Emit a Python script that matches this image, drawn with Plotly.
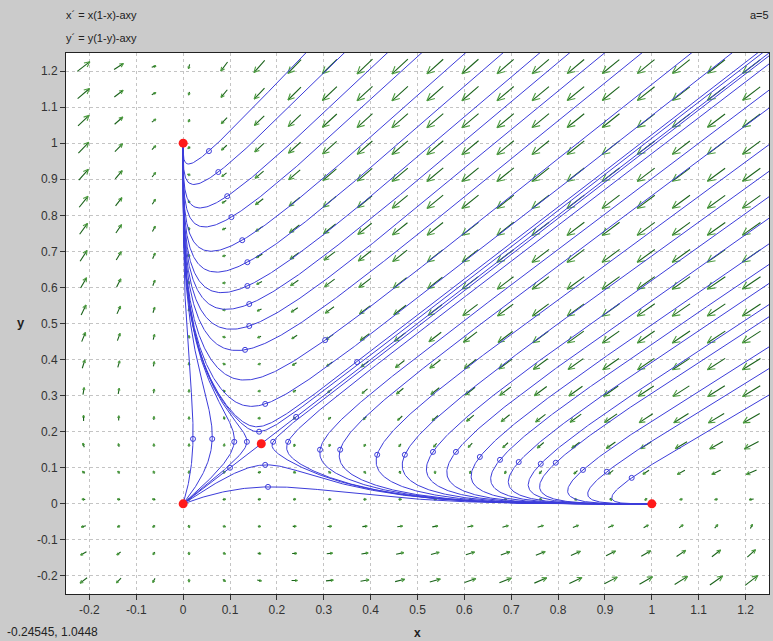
import numpy as np
import plotly.graph_objects as go

# ---- chart values ----
A_PARAM = 5.0
X_RANGE = [-0.25, 1.25]
Y_RANGE = [-0.25, 1.25]
TICK_VALS = [-0.2, -0.1, 0.0, 0.1, 0.2, 0.3, 0.4, 0.5, 0.6, 0.7, 0.8, 0.9, 1.0, 1.1, 1.2]
TICK_TEXT = ["-0.2", "-0.1", "0", "0.1", "0.2", "0.3", "0.4", "0.5", "0.6", "0.7",
             "0.8", "0.9", "1", "1.1", "1.2"]
FIELD_GRID = [-0.2125, -0.1375, -0.0625, 0.0125, 0.0875, 0.1625, 0.2375, 0.3125,
              0.3875, 0.4625, 0.5375, 0.6125, 0.6875, 0.7625, 0.8375, 0.9125,
              0.9875, 1.0625, 1.1375, 1.2125]

# initial points (small circles)
START_X = [0.055, 0.075, 0.094, 0.103, 0.126, 0.137, 0.137, 0.141, 0.141, 0.132,
           0.303, 0.371, 0.175, 0.162, 0.241,
           0.021, 0.062, 0.109, 0.136, 0.100, 0.175, 0.181,
           0.192, 0.224, 0.292, 0.335,
           0.414, 0.473, 0.533, 0.582, 0.633, 0.676, 0.716, 0.763, 0.795, 0.853,
           0.904, 0.957]
START_Y = [0.978, 0.920, 0.853, 0.795, 0.731, 0.670, 0.604, 0.554, 0.493, 0.427,
           0.454, 0.393, 0.277, 0.200, 0.241,
           0.180, 0.180, 0.172, 0.172, 0.100, 0.108, 0.047,
           0.172, 0.172, 0.150, 0.150,
           0.136, 0.136, 0.144, 0.144, 0.130, 0.122, 0.116, 0.111, 0.114, 0.094,
           0.089, 0.072]

FIXED_X = [0.0, 1.0, 0.0, 0.1667]
FIXED_Y = [0.0, 0.0, 1.0, 0.1667]

EQ_LINE1 = "x\u00b4 = x(1-x)-axy"
EQ_LINE2 = "y\u00b4 = y(1-y)-axy"
PARAM_TEXT = "a=5"
COORD_TEXT = "-0.24545, 1.0448"

# ---- layout geometry ----
W, H = 773, 641
ML, MR, MT, MB = 66, 4, 53, 47
PW, PH = W - ML - MR, H - MT - MB
PX = PW / (X_RANGE[1] - X_RANGE[0])
PY = PH / (Y_RANGE[1] - Y_RANGE[0])


def field(x, y):
    return x * (1 - x) - A_PARAM * x * y, y * (1 - y) - A_PARAM * x * y


def integrate(x0, y0, sign):
    xs, ys = [x0], [y0]
    x, y = x0, y0
    for _ in range(8000):
        vx, vy = field(x, y)
        sp = np.hypot(vx, vy)
        if sp < 1e-8:
            break
        h = sign * min(0.05, 0.003 / sp)
        k1 = field(x, y)
        k2 = field(x + h / 2 * k1[0], y + h / 2 * k1[1])
        k3 = field(x + h / 2 * k2[0], y + h / 2 * k2[1])
        k4 = field(x + h * k3[0], y + h * k3[1])
        x = x + h / 6 * (k1[0] + 2 * k2[0] + 2 * k3[0] + k4[0])
        y = y + h / 6 * (k1[1] + 2 * k2[1] + 2 * k3[1] + k4[1])
        xs.append(x)
        ys.append(y)
        if x < -0.3 or x > 1.35 or y < -0.3 or y > 1.35:
            break
        done = False
        for fx, fy in zip(FIXED_X, FIXED_Y):
            if np.hypot(x - fx, y - fy) < 1e-3:
                xs.append(fx)
                ys.append(fy)
                done = True
                break
        if done:
            break
    return xs, ys


traj_x, traj_y = [], []
for x0, y0 in zip(START_X, START_Y):
    bx, by = integrate(x0, y0, -1)
    fx, fy = integrate(x0, y0, 1)
    traj_x += bx[::-1] + fx[1:] + [None]
    traj_y += by[::-1] + fy[1:] + [None]

# direction field arrows (computed in screen pixels, converted back)
shaft_x, shaft_y, head_x, head_y = [], [], [], []
for gx in FIELD_GRID:
    for gy in FIELD_GRID:
        vx, vy = field(gx, gy)
        m = np.hypot(vx, vy)
        if m < 1e-9:
            continue
        sx, sy = vx * PX, vy * PY
        n = np.hypot(sx, sy)
        ux, uy = sx / n, sy / n
        L = 22.0 * np.tanh(m / 1.6)
        L = max(L, 3.0)
        tx, ty = -0.5 * L * ux, -0.5 * L * uy
        hx, hy = 0.5 * L * ux, 0.5 * L * uy
        shaft_x += [gx + tx / PX, gx + hx / PX, None]
        shaft_y += [gy + ty / PY, gy + hy / PY, None]
        hl = max(2.5, 0.38 * L)
        for ang in (0.45, -0.45):
            c, s = np.cos(ang), np.sin(ang)
            bx = -(ux * c - uy * s) * hl
            by = -(ux * s + uy * c) * hl
            head_x += [gx + (hx + bx) / PX, gx + hx / PX, None]
            head_y += [gy + (hy + by) / PY, gy + hy / PY, None]

fig = go.Figure()
fig.add_trace(go.Scatter(x=shaft_x, y=shaft_y, mode="lines",
                         line=dict(color="#1a621a", width=1.1), hoverinfo="skip"))
fig.add_trace(go.Scatter(x=head_x, y=head_y, mode="lines",
                         line=dict(color="#4e9e40", width=1.1), hoverinfo="skip"))
fig.add_trace(go.Scatter(x=traj_x, y=traj_y, mode="lines",
                         line=dict(color="#3c3cda", width=1), hoverinfo="skip"))
fig.add_trace(go.Scatter(x=START_X, y=START_Y, mode="markers",
                         marker=dict(symbol="circle-open", size=5,
                                     color="#3c3cda", line=dict(width=1))))
fig.add_trace(go.Scatter(x=FIXED_X, y=FIXED_Y, mode="markers",
                         marker=dict(symbol="circle", size=9, color="#ff1a1a"),
                         cliponaxis=False))

axis_common = dict(
    tickvals=TICK_VALS, ticktext=TICK_TEXT, ticks="outside", ticklen=5,
    tickcolor="#333333", showline=True, mirror=True, linecolor="#222222",
    linewidth=1, showgrid=True, gridcolor="#c4c4c4", griddash="dot",
    gridwidth=1, zeroline=False,
    tickfont=dict(family="Liberation Sans, Arial, sans-serif", size=12,
                  color="#333333"),
)
fig.update_xaxes(range=X_RANGE, **axis_common)
fig.update_yaxes(range=Y_RANGE, **axis_common)


def px2paper(px, py):
    return (px - ML) / PW, (H - MB - py) / PH


annos = []
for text, px, py, xa, bold, size in [
    (EQ_LINE1, 64, 15, "left", False, 11),
    (EQ_LINE2, 64, 38, "left", False, 11),
    (PARAM_TEXT, 771, 15, "right", False, 11),
    (COORD_TEXT, 5, 632, "left", False, 12),
    ("x", 417, 633, "center", True, 12),
    ("y", 21, 322, "center", True, 13),
]:
    xp, yp = px2paper(px, py)
    annos.append(dict(text=("<b>%s</b>" % text) if bold else text,
                      x=xp, y=yp, xref="paper", yref="paper",
                      xanchor=xa, yanchor="middle", showarrow=False,
                      font=dict(family="Liberation Sans, Arial, sans-serif",
                                size=size, color="#222222")))

fig.update_layout(
    width=W, height=H, showlegend=False,
    margin=dict(l=ML, r=MR, t=MT, b=MB),
    paper_bgcolor="#cbcbcb", plot_bgcolor="#ffffff",
    annotations=annos,
)

fig.write_html("out.html",
               config={"displayModeBar": False},
               post_script="document.body.style.margin='0px';"
                           "document.body.style.overflow='hidden';")
